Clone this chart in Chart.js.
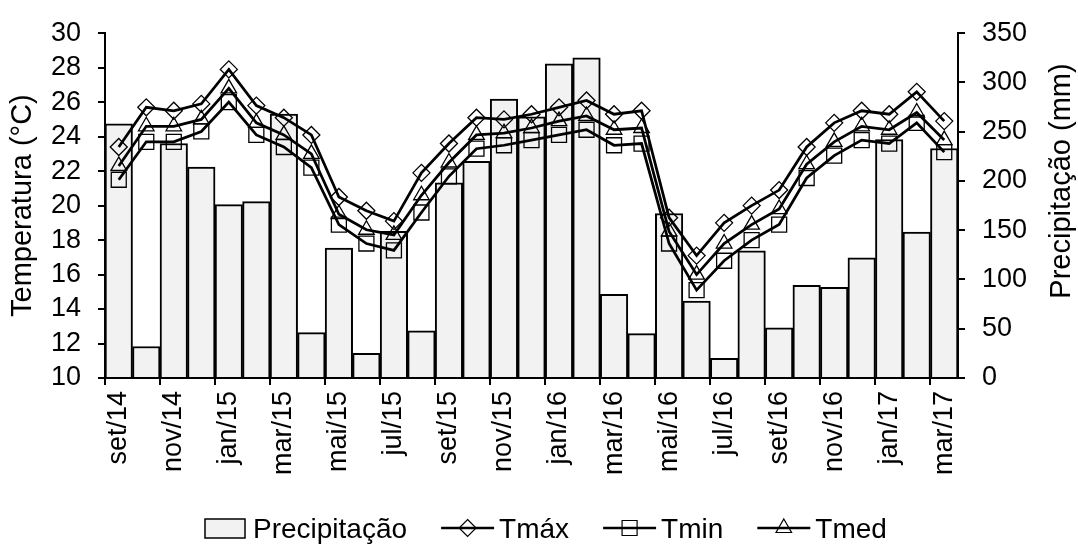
<!DOCTYPE html>
<html>
<head>
<meta charset="utf-8">
<script src="https://cdn.jsdelivr.net/npm/chart.js@4.4.0/dist/chart.umd.min.js"></script>
<style>
  body { margin: 0; background: #fff; }
  canvas { display: block; }
</style>
</head>
<body>
<canvas id="chart" width="1078" height="546"></canvas>
<script>
// months set/14 .. mar/17
var months = ['set/14', 'out/14', 'nov/14', 'dez/14', 'jan/15', 'fev/15', 'mar/15', 'abr/15',
    'mai/15', 'jun/15', 'jul/15', 'ago/15', 'set/15', 'out/15', 'nov/15', 'dez/15',
    'jan/16', 'fev/16', 'mar/16', 'abr/16', 'mai/16', 'jun/16', 'jul/16', 'ago/16',
    'set/16', 'out/16', 'nov/16', 'dez/16', 'jan/17', 'fev/17', 'mar/17'];

// precipitation (mm)
var precip = [258, 32, 238, 214, 176, 179, 268, 46, 132, 25, 149, 48, 198, 220, 283, 265,
    319, 325, 85, 45, 167, 78, 20, 129, 51, 94, 92, 122, 242, 148, 233];

// temperatures (C)
var tmax = [23.4, 25.7, 25.5, 25.9, 27.9, 25.8, 25.1, 24.1, 20.5, 19.7, 19.1, 21.9, 23.6, 25.1, 25.0, 25.3,
    25.7, 26.1, 25.3, 25.5, 19.3, 17.1, 19.0, 20.0, 20.9, 23.4, 24.8, 25.5, 25.3, 26.6, 24.9];
var tmin = [21.5, 23.7, 23.7, 24.3, 26.0, 24.1, 23.4, 22.2, 18.9, 17.8, 17.4, 19.6, 21.7, 23.3, 23.5, 23.8,
    24.1, 24.4, 23.5, 23.6, 17.8, 15.1, 16.8, 18.0, 18.9, 21.6, 22.9, 23.8, 23.6, 24.8, 23.1];
var tmed = [22.3, 24.6, 24.6, 25.0, 26.8, 24.8, 24.1, 23.0, 19.5, 18.6, 18.3, 20.6, 22.5, 24.1, 24.2, 24.5,
    24.9, 25.2, 24.4, 24.5, 18.5, 16.0, 17.8, 18.9, 19.8, 22.4, 23.7, 24.6, 24.4, 25.4, 23.8];

var FONT = 'Liberation Sans, Arial, sans-serif';

function drawMarker(ctx, style, x, y) {
    ctx.beginPath();
    if (style === 'rectRot') {
        var r = 8.5;
        ctx.moveTo(x, y - r); ctx.lineTo(x + r, y); ctx.lineTo(x, y + r); ctx.lineTo(x - r, y);
        ctx.closePath();
    } else if (style === 'rect') {
        ctx.rect(x - 7.5, y - 7.5, 15, 15);
    } else {
        var t = 9;
        ctx.moveTo(x, y - t);
        ctx.lineTo(x + t * 0.866, y + t * 0.5);
        ctx.lineTo(x - t * 0.866, y + t * 0.5);
        ctx.closePath();
    }
    ctx.stroke();
}

// bottom legend + right axis title (reads bottom to top)
var extras = {
    id: 'extras',
    afterDraw: function (chart) {
        var ctx = chart.ctx;
        ctx.save();
        ctx.fillStyle = '#000';
        ctx.strokeStyle = '#000';
        ctx.font = '28px ' + FONT;
        ctx.textBaseline = 'middle';
        ctx.textAlign = 'left';

        var y = 528;
        var x = 205;
        var items = chart.data.datasets.slice().sort(function (a, b) { return b.order - a.order; });
        items.forEach(function (ds) {
            if (ds.type === 'bar') {
                ctx.fillStyle = '#f2f2f2';
                ctx.fillRect(x, y - 9, 40, 19);
                ctx.lineWidth = 1.5;
                ctx.strokeRect(x, y - 9, 40, 19);
                x += 48;
            } else {
                ctx.lineWidth = 2.5;
                ctx.beginPath();
                ctx.moveTo(x, y); ctx.lineTo(x + 53, y);
                ctx.stroke();
                ctx.lineWidth = 1.2;
                drawMarker(ctx, ds.pointStyle, x + 26.5, y);
                x += 58;
            }
            ctx.fillStyle = '#000';
            ctx.fillText(ds.label, x, y + 2);
            x += ctx.measureText(ds.label).width + 34;
        });

        ctx.font = '29px ' + FONT;
        ctx.translate(1062, 181);
        ctx.rotate(-Math.PI / 2);
        ctx.textAlign = 'center';
        ctx.fillText('Precipitação (mm)', 0, 0);
        ctx.restore();
    }
};

var lineStyle = {
    type: 'line',
    yAxisID: 'y',
    borderColor: '#000',
    borderWidth: 2.75,
    pointBorderColor: '#000',
    pointBackgroundColor: 'rgba(0,0,0,0)',
    pointBorderWidth: 1.3,
    tension: 0,
    fill: false
};

var chart = new Chart(document.getElementById('chart'), {
    type: 'bar',
    plugins: [extras],
    data: {
        labels: months,
        datasets: [
            {
                type: 'bar',
                label: 'Precipitação',
                data: precip,
                yAxisID: 'y1',
                backgroundColor: '#f2f2f2',
                borderColor: '#000',
                borderWidth: 2,
                categoryPercentage: 1,
                barPercentage: 1,
                order: 4
            },
            Object.assign({}, lineStyle, { label: 'Tmáx', data: tmax, pointStyle: 'rectRot', pointRadius: 8.5, order: 3 }),
            Object.assign({}, lineStyle, { label: 'Tmin', data: tmin, pointStyle: 'rect', pointRadius: 10.6, order: 2 }),
            Object.assign({}, lineStyle, { label: 'Tmed', data: tmed, pointStyle: 'triangle', pointRadius: 9, order: 1 })
        ]
    },
    options: {
        responsive: false,
        animation: false,
        layout: { padding: { top: 24, left: 0, right: 0, bottom: 0 } },
        plugins: {
            legend: { display: false },
            tooltip: { enabled: false }
        },
        scales: {
            x: {
                offset: true,
                grid: {
                    offset: true,
                    drawOnChartArea: false,
                    tickLength: 7,
                    lineWidth: 2,
                    color: function (c) { return c.index % 2 === 0 ? '#000' : 'rgba(0,0,0,0)'; }
                },
                border: { color: '#000', width: 2 },
                ticks: {
                    autoSkip: false,
                    minRotation: 90,
                    maxRotation: 90,
                    padding: 6,
                    color: '#000',
                    font: { family: FONT, size: 27 },
                    callback: function (v, i) { return i % 2 ? '' : months[i]; }
                },
                afterFit: function (s) { s.height = 168; }
            },
            y: {
                position: 'left',
                min: 10,
                max: 30,
                grid: { drawOnChartArea: false, tickLength: 7, lineWidth: 2, color: '#000' },
                border: { color: '#000', width: 2 },
                ticks: { stepSize: 2, autoSkip: false, padding: 17, color: '#000', font: { family: FONT, size: 27 } },
                title: {
                    display: true,
                    text: 'Temperatura (°C)',
                    color: '#000',
                    font: { family: FONT, size: 29 },
                    padding: { top: 6, bottom: 0 }
                },
                afterFit: function (s) { s.width = 105; }
            },
            y1: {
                position: 'right',
                min: 0,
                max: 350,
                grid: { drawOnChartArea: false, tickLength: 7, lineWidth: 2, color: '#000' },
                border: { color: '#000', width: 2 },
                ticks: { stepSize: 50, autoSkip: false, padding: 17, color: '#000', font: { family: FONT, size: 27 } },
                afterFit: function (s) { s.width = 120; }
            }
        }
    }
});
</script>
</body>
</html>
